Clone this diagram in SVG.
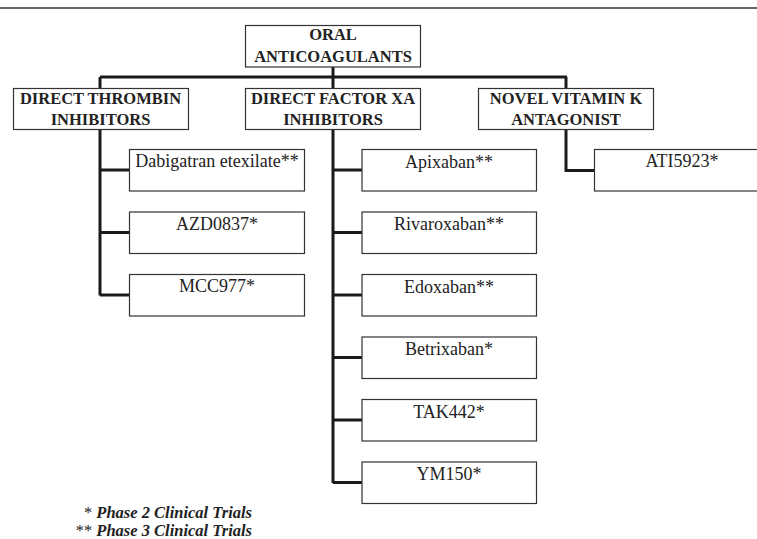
<svg xmlns="http://www.w3.org/2000/svg" width="757" height="539" viewBox="0 0 757 539">
<style>
.box{fill:#fff;stroke:#333;stroke-width:1.2}
.h{font-family:"Liberation Serif","Times New Roman",serif;font-weight:bold;font-size:16.5px;fill:#222;text-anchor:middle}
.t{font-family:"Liberation Serif","Times New Roman",serif;font-size:18px;fill:#222;text-anchor:middle}
.c{fill:none;stroke:#1a1a1a;stroke-width:3}
.lg{font-family:"Liberation Serif","Times New Roman",serif;font-weight:bold;font-style:italic;font-size:16.5px;fill:#222;text-anchor:end}
.st{font-weight:normal;font-style:normal}
</style>
<rect width="757" height="539" fill="#fff"/>
<line x1="0" y1="8" x2="757" y2="8" stroke="#333" stroke-width="1.5"/>
<g id="connectors">
<path class="c" d="M333 67V77M100 77H567M100 77V88M333 77V88M566 77V88"/>
<path class="c" d="M100 129V295.5M100 170H129M100 232.5H129M100 295H129"/>
<path class="c" d="M333 129V483M333 170H362M333 232.5H362M333 295H362M333 357.5H362M333 420H362M333 482.5H362"/>
<path class="c" d="M566 129V170.5H595"/>
</g>
<g id="root"><rect class="box" x="245.5" y="25.5" width="175" height="41.5"/><text class="h" x="333" y="40">ORAL</text><text class="h" x="333" y="61.5">ANTICOAGULANTS</text></g>
<g id="dti"><rect class="box" x="13.5" y="88.5" width="175" height="41"/><text class="h" x="100.5" y="104">DIRECT THROMBIN</text><text class="h" x="100.5" y="125">INHIBITORS</text></g>
<g id="dfxa"><rect class="box" x="245.5" y="88.5" width="175" height="41"/><text class="h" x="333" y="104">DIRECT FACTOR XA</text><text class="h" x="333" y="125">INHIBITORS</text></g>
<g id="nvka"><rect class="box" x="478.5" y="88.5" width="175" height="41"/><text class="h" x="566" y="104">NOVEL VITAMIN K</text><text class="h" x="566" y="125">ANTAGONIST</text></g>
<g id="dabigatran"><rect class="box" x="129.5" y="149.5" width="175" height="41.5"/><text class="t" x="217" y="167">Dabigatran etexilate**</text></g>
<g id="azd0837"><rect class="box" x="129.5" y="212" width="175" height="41.5"/><text class="t" x="217" y="229.5">AZD0837*</text></g>
<g id="mcc977"><rect class="box" x="129.5" y="274.5" width="175" height="41.5"/><text class="t" x="217" y="292">MCC977*</text></g>
<g id="apixaban"><rect class="box" x="362" y="149.5" width="174.5" height="41.5"/><text class="t" x="449" y="167.5">Apixaban**</text></g>
<g id="rivaroxaban"><rect class="box" x="362" y="212" width="174.5" height="41.5"/><text class="t" x="449" y="230">Rivaroxaban**</text></g>
<g id="edoxaban"><rect class="box" x="362" y="274.5" width="174.5" height="41.5"/><text class="t" x="449" y="292.5">Edoxaban**</text></g>
<g id="betrixaban"><rect class="box" x="362" y="337" width="174.5" height="41.5"/><text class="t" x="449" y="355">Betrixaban*</text></g>
<g id="tak442"><rect class="box" x="362" y="399.5" width="174.5" height="41.5"/><text class="t" x="449" y="417.5">TAK442*</text></g>
<g id="ym150"><rect class="box" x="362" y="462" width="174.5" height="41.5"/><text class="t" x="449" y="480">YM150*</text></g>
<g id="ati5923"><rect class="box" x="594.5" y="149.5" width="175" height="41.5"/><text class="t" x="682" y="167">ATI5923*</text></g>
<g id="legend">
<text class="lg" x="252" y="518"><tspan class="st">* </tspan>Phase 2 Clinical Trials</text>
<text class="lg" x="252" y="535.5"><tspan class="st">** </tspan>Phase 3 Clinical Trials</text>
</g>
</svg>
